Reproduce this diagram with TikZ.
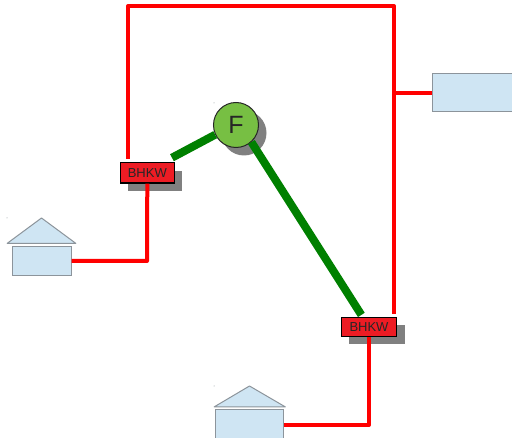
\documentclass[tikz,border=0pt]{standalone}
\usepackage{fontspec}
\setmainfont{Liberation Sans}
\usepackage{xcolor}
\definecolor{wallfill}{HTML}{CFE5F3}
\definecolor{wallline}{HTML}{8C949B}
\definecolor{bhkwred}{HTML}{ED1C24}
\definecolor{fuelgreen}{HTML}{77BF43}
\definecolor{gasgreen}{HTML}{008000}
\definecolor{shadowgray}{HTML}{808080}
\usetikzlibrary{calc, positioning, shadows}
\tikzset{
  bhkw/.style={draw=black, line width=1.2pt, fill=bhkwred, inner sep=0pt, minimum width=54pt, minimum height=20.5pt,
    font=\fontsize{13}{13}\selectfont, text=black!85,
    drop shadow={shadow xshift=8pt, shadow yshift=-8pt, fill=shadowgray, opacity=1}},
  fuel/.style={circle, draw=black!85, line width=1pt, fill=fuelgreen, inner sep=0pt, minimum size=45pt,
    font=\fontsize{25}{25}\selectfont, text=black!85,
    drop shadow={shadow xshift=8pt, shadow yshift=-8pt, fill=shadowgray, opacity=1}},
  wall/.style={draw=wallline, line width=1pt, fill=wallfill, inner sep=0pt},
  heat/.style={draw=red, line width=4pt, line join=round},
  gas/.style={draw=gasgreen, line width=8pt}
}

\begin{document}
\begin{tikzpicture}[x=1pt,y=-1pt,on grid]
    \clip (0,0) rectangle (512,438);
    \fill[white] (0,0) rectangle (512,438);

    \node[fuel] (f) at (236,125) {F};
    \node[bhkw] (bhkwa) [below left=47.8pt and 88.7pt of f] {BHKW};
    \node[bhkw, minimum width=55.5pt, minimum height=19pt] (bhkwb) [below right=201.7pt and 133pt of f] {BHKW};

    \node[wall, minimum width=59pt, minimum height=28.5pt] (housea) at (41.5,261.2) {};
    \node[wall, minimum width=68.5pt, minimum height=44pt] (houseb) at (249.3,432) {};
    \node[wall, minimum width=90pt, minimum height=38pt] (store) at (477,92.5) {};

    % roofs
    \draw[wall, line join=bevel] (41.5,218) -- (76,243.5) -- (7,243.5) -- cycle;
    \draw[wall, line join=bevel] (249.5,386) -- (285.5,407) -- (214,407) -- cycle;

    \coordinate (topl) at (128,6);
    \coordinate (topr) at (394,6);
    \coordinate (tee) at (394,93);
    \coordinate (kneea) at (147,261);
    \coordinate (kneeb) at (369,425);

    \draw[heat, shorten <=3pt, shorten >=3pt] (bhkwa.north -| topl) -- (topl) -- (topr) -- (bhkwb.north -| topr);
    \draw[heat] (tee) -- (store.west |- tee);
    \draw[heat] (bhkwa.south) -- (kneea) -- (housea.east |- kneea);
    \draw[heat] (bhkwb.south) -- (kneeb) -- (houseb.east |- kneeb);

    \path[gas]
    (f.205) edge [shorten >=9pt] (bhkwa.33)
    (f.-48) edge [shorten >=2pt] (bhkwb.123)
    ;

    \foreach \x/\y in {7/218, 214/103, 214/386}
      \fill[wallline] (\x,\y) circle (0.5);
\end{tikzpicture}
\end{document}
